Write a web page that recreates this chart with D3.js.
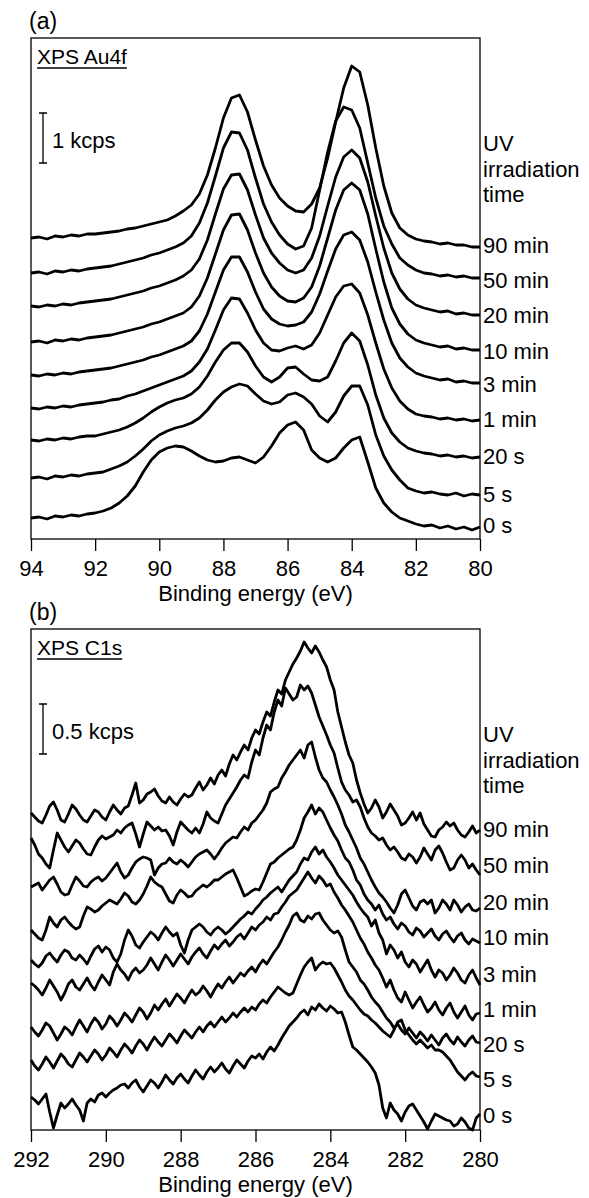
<!DOCTYPE html>
<html>
<head>
<meta charset="utf-8">
<script src="https://cdn.jsdelivr.net/npm/d3@7"></script>
<style>
  body { margin: 0; background: #fff; }
  text { font-family: "Liberation Sans", Arial, sans-serif; fill: #000; }
</style>
</head>
<body>
<svg id="fig" width="589" height="1198"></svg>
<script>
// ---------- data: Au4f (cps, stacked), sampled every 0.25 eV from 94 to 80 eV ----------
const auEnergy = d3.range(0, 57).map(i => 94 - 0.25 * i);
const auTicks = [94, 92, 90, 88, 86, 84, 82, 80];
const timeLabels = ["90 min", "50 min", "20 min", "10 min", "3 min", "1 min", "20 s", "5 s", "0 s"];

const au90min = [6020,6040,6000,6060,6040,6080,6060,6100,6100,6120,6140,6160,6200,6220,6260,6300,6340,6380,6460,6560,6680,6900,7280,7820,8420,8820,8880,8540,7980,7460,7080,6820,6660,6560,6540,6700,7020,7620,8340,9020,9460,9340,8680,7820,7060,6520,6220,6080,6000,5960,5940,5900,5920,5880,5880,5840,5840];
const au50min = [5320,5340,5300,5360,5340,5380,5360,5400,5420,5440,5460,5500,5540,5580,5620,5680,5720,5780,5840,5920,6060,6320,6720,7260,7820,8140,8120,7780,7220,6700,6340,6080,5900,5800,5860,6220,6980,7740,8360,8640,8580,8220,7520,6820,6260,5900,5620,5480,5380,5320,5300,5260,5280,5240,5260,5220,5220];
const au20min = [4660,4640,4680,4660,4700,4680,4720,4740,4760,4780,4800,4840,4880,4920,4960,5020,5060,5120,5180,5260,5380,5600,5980,6500,7000,7280,7300,6980,6480,6020,5720,5520,5380,5320,5380,5620,6060,6660,7240,7640,7780,7620,7140,6460,5820,5320,5000,4800,4680,4620,4580,4540,4560,4500,4520,4480,4480];
const au10min = [3940,3960,3920,3980,3960,4000,3980,4020,4040,4060,4080,4120,4160,4200,4240,4300,4340,4400,4460,4520,4640,4860,5220,5700,6180,6480,6500,6180,5720,5320,5040,4860,4760,4740,4820,5040,5460,6020,6580,6980,7120,6980,6500,5800,5140,4620,4300,4100,3980,3920,3880,3840,3860,3800,3820,3780,3780];
const au3min = [3280,3260,3300,3280,3320,3300,3340,3360,3380,3400,3420,3460,3500,3540,3580,3640,3680,3740,3800,3860,3960,4160,4500,4940,5380,5640,5640,5340,4940,4600,4400,4300,4260,4280,4340,4540,4900,5360,5800,6080,6140,5980,5540,4940,4380,3920,3620,3440,3320,3260,3220,3180,3200,3140,3160,3120,3120];
const au1min = [2620,2600,2640,2620,2660,2640,2680,2700,2720,2740,2780,2800,2860,2900,2960,3020,3080,3140,3200,3260,3360,3540,3800,4180,4580,4820,4800,4520,4180,3920,3780,3760,3820,3860,3800,3880,4120,4480,4840,5060,5100,4920,4480,3920,3400,3020,2760,2600,2500,2460,2440,2400,2420,2380,2400,2360,2380];
const au20s = [1980,1960,2000,1980,2020,2000,2040,2060,2060,2100,2140,2180,2240,2320,2420,2540,2640,2720,2780,2820,2900,3040,3260,3540,3780,3920,3920,3740,3460,3240,3140,3240,3420,3440,3300,3180,3160,3240,3560,3920,4120,3960,3480,2880,2420,2120,1940,1820,1760,1720,1700,1660,1680,1640,1660,1620,1640];
const au5s = [1220,1240,1200,1260,1240,1280,1260,1300,1320,1340,1400,1460,1540,1660,1800,1960,2080,2160,2220,2260,2320,2420,2580,2780,2940,3040,3100,3060,2900,2760,2700,2740,2880,2920,2840,2700,2460,2340,2540,2860,3060,3060,2680,2080,1660,1380,1180,1020,960,920,940,900,880,920,860,900,880];
const au0s = [420,440,400,460,440,480,460,500,520,560,620,720,860,1060,1340,1580,1740,1820,1860,1840,1760,1660,1580,1540,1560,1620,1640,1580,1520,1640,1860,2120,2280,2340,2180,1780,1620,1540,1620,1820,1980,2040,1540,1020,720,540,420,360,300,260,280,220,260,200,240,180,240];

// ---------- data: C1s (cps, stacked), sampled every 0.1 eV from 292 to 280 eV ----------
const cEnergy = d3.range(0, 121).map(i => 292 - 0.1 * i);
const cTicks = [292, 290, 288, 286, 284, 282, 280];

const c90min = [3170,3130,3090,3070,3150,3240,3280,3200,3100,3080,3160,3250,3210,3150,3100,3080,3140,3200,3180,3130,3100,3180,3250,3200,3160,3220,3240,3350,3470,3270,3300,3360,3380,3410,3340,3290,3270,3330,3280,3250,3310,3360,3330,3350,3420,3480,3400,3450,3520,3460,3550,3600,3540,3660,3750,3700,3780,3850,3800,3920,4000,3960,4080,4180,4140,4280,4400,4360,4500,4580,4660,4720,4790,4880,4820,4770,4840,4780,4700,4630,4500,4400,4180,4030,3880,3750,3670,3500,3370,3260,3170,3220,3300,3230,3120,3180,3260,3200,3140,3050,3070,3120,3180,3100,3170,3060,3000,2940,2930,3000,3030,3080,3040,3070,3000,2950,2930,2980,3040,2970,3000];
const c50min = [2920,2850,2760,2720,2660,2620,2800,2970,2900,2830,2780,2840,2900,2870,2810,2760,2750,2830,2900,2940,2910,2930,2950,3000,2970,3020,3050,3070,2960,2830,2960,3080,3040,3000,3030,2990,3000,2940,2850,2980,3080,3040,3000,2970,3020,2970,3060,3180,3120,3090,3070,3160,3250,3310,3370,3430,3500,3550,3520,3680,3800,3750,3920,4050,4000,4180,4300,4240,4420,4360,4300,4330,4450,4400,4440,4370,4250,4130,4040,3950,3850,3770,3620,3480,3400,3350,3280,3300,3230,3120,3030,2970,2940,2900,2920,2850,2800,2830,2780,2720,2700,2760,2730,2670,2730,2820,2760,2700,2800,2840,2770,2680,2600,2620,2700,2750,2700,2620,2660,2600,2550];
const c20min = [2430,2450,2470,2400,2450,2500,2530,2460,2380,2350,2360,2450,2530,2490,2440,2430,2480,2510,2530,2490,2520,2570,2620,2670,2580,2520,2550,2620,2680,2710,2730,2720,2700,2550,2620,2660,2670,2720,2680,2660,2700,2670,2630,2680,2730,2760,2780,2800,2760,2710,2760,2820,2870,2900,2930,2920,2980,3030,3000,3070,3100,3150,3200,3270,3380,3410,3430,3520,3580,3650,3700,3750,3800,3720,3850,3880,3730,3600,3520,3480,3400,3330,3250,3160,3050,2980,2900,2820,2720,2660,2580,2500,2430,2370,2330,2280,2220,2170,2250,2360,2400,2320,2240,2200,2280,2300,2260,2300,2170,2220,2300,2260,2200,2300,2250,2180,2230,2260,2200,2190,2220];
const c10min = [2000,1960,1920,1900,2000,2130,2070,2030,2100,2130,2080,2040,2010,2030,2140,2230,2210,2180,2200,2240,2270,2300,2280,2260,2310,2370,2340,2280,2260,2300,2360,2440,2530,2480,2450,2430,2360,2290,2270,2350,2400,2370,2330,2340,2390,2420,2450,2430,2460,2500,2500,2530,2560,2580,2600,2520,2430,2340,2360,2390,2410,2400,2480,2570,2660,2680,2720,2750,2780,2810,2830,2900,3000,3120,3180,3250,3160,3220,3180,3100,3020,2950,2890,2800,2720,2680,2600,2500,2450,2360,2300,2260,2200,2250,2160,2100,2130,2060,2010,2070,2040,1980,1950,2020,1990,1930,1970,2010,1940,1900,1960,1990,1930,1880,1940,1970,1900,1860,1910,1890,1870];
const c3min = [1700,1660,1630,1670,1740,1770,1720,1680,1750,1800,1780,1720,1700,1750,1710,1660,1740,1810,1840,1780,1830,1800,1720,1680,1760,1900,2000,1940,1850,1820,1880,1930,1980,1950,1900,1970,2030,1980,1940,1970,1850,1770,1900,2000,2030,2060,2030,1980,1950,2000,2030,2000,1960,1990,2030,2070,2110,2140,2180,2160,2210,2250,2300,2330,2370,2400,2430,2380,2440,2500,2540,2580,2660,2720,2700,2780,2830,2760,2800,2730,2680,2620,2550,2500,2450,2400,2350,2280,2220,2170,2130,2040,2100,1970,1900,1760,1850,1800,1720,1780,1680,1630,1700,1660,1580,1640,1700,1600,1530,1600,1570,1500,1550,1620,1570,1500,1470,1550,1600,1520,1450];
const c1min = [1470,1440,1400,1350,1420,1500,1440,1380,1300,1370,1460,1500,1430,1400,1460,1520,1450,1400,1480,1550,1500,1450,1580,1660,1600,1560,1500,1580,1620,1570,1600,1650,1720,1660,1600,1680,1750,1700,1640,1700,1760,1710,1660,1730,1780,1820,1760,1720,1790,1850,1810,1860,1900,1840,1880,1930,1960,1910,1970,2030,2000,2050,2080,2130,2100,2160,2170,2230,2280,2340,2370,2400,2460,2520,2580,2520,2470,2540,2500,2440,2460,2380,2320,2250,2200,2140,2080,2000,1920,1860,1780,1720,1650,1600,1520,1430,1500,1400,1320,1280,1380,1300,1220,1280,1330,1250,1180,1220,1280,1200,1150,1220,1270,1180,1120,1180,1240,1150,1100,1160,1170];
const c20s = [1030,980,940,1000,1070,1040,970,900,960,1030,1000,950,1030,1100,1040,980,1060,1120,1080,1010,1060,1140,1100,1040,1100,1170,1130,1080,1150,1220,1180,1110,1170,1250,1200,1260,1310,1240,1300,1360,1320,1270,1340,1400,1350,1380,1440,1390,1330,1400,1460,1420,1480,1530,1470,1520,1570,1540,1590,1630,1580,1650,1700,1660,1720,1780,1830,1900,1980,2050,2140,2170,2100,2080,2140,2110,2160,2170,2100,2050,2000,1970,1990,1930,1800,1680,1630,1580,1500,1460,1400,1330,1280,1240,1180,1120,1080,1020,1060,1000,960,1020,970,920,980,940,890,950,900,850,920,960,900,860,930,880,840,900,940,880,870];
const c5s = [700,640,600,660,730,680,620,690,760,720,660,630,700,770,730,680,740,800,760,700,750,820,780,730,800,860,820,770,840,900,860,800,870,930,880,840,900,960,920,870,940,1000,960,920,980,1030,980,1040,1080,1030,1080,1130,1080,1120,1170,1130,1180,1220,1180,1230,1200,1260,1300,1270,1330,1380,1430,1400,1370,1350,1370,1460,1550,1630,1680,1720,1600,1650,1680,1660,1670,1620,1550,1480,1400,1340,1300,1250,1200,1160,1140,1100,1070,1030,990,960,930,1000,1080,1100,1000,950,900,860,900,860,820,850,800,800,780,740,700,640,580,540,500,550,580,540,530];
const c0s = [330,300,260,310,360,180,20,150,270,220,260,310,250,200,90,270,310,280,350,370,330,370,400,420,450,460,420,470,500,430,380,440,500,470,420,480,550,500,460,520,560,510,470,540,600,550,510,580,630,580,620,670,610,570,640,700,660,620,690,740,720,760,710,780,830,790,850,920,980,1040,1080,1120,1170,1200,1150,1230,1200,1260,1220,1190,1240,1210,1170,1180,1080,950,830,800,760,720,680,630,570,450,220,120,270,200,160,90,180,240,260,200,140,80,10,90,160,140,120,100,90,40,60,120,80,20,0,120,160];

// ---------- layout ----------
const plotLeft = 31, plotRight = 480;
const font = '"Liberation Sans", Arial, sans-serif';
const svg = d3.select("#fig");

const panels = [
  {
    letter: "(a)", title: "XPS Au4f", top: 38, bottom: 539,
    xDomain: [94, 80], ticks: auTicks, yMax: 10020,
    energy: auEnergy,
    series: [au90min, au50min, au20min, au10min, au3min, au1min, au20s, au5s, au0s],
    bar: { base: 7520, span: 1000, label: "1 kcps" },
    labelY: [253, 288, 323, 359, 392, 427, 464, 502, 533]
  },
  {
    letter: "(b)", title: "XPS C1s", top: 629, bottom: 1130,
    xDomain: [292, 280], ticks: cTicks, yMax: 5010,
    energy: cEnergy,
    series: [c90min, c50min, c20min, c10min, c3min, c1min, c20s, c5s, c0s],
    bar: { base: 3760, span: 500, label: "0.5 kcps" },
    labelY: [837, 873, 910, 945, 982, 1017, 1052, 1087, 1123]
  }
];

function drawPanel(p) {
  const x = d3.scaleLinear().domain(p.xDomain).range([plotLeft, plotRight]);
  const y = d3.scaleLinear().domain([0, p.yMax]).range([p.bottom, p.top]);
  const g = svg.append("g");

  // spectra
  const line = d3.line()
    .x((d, i) => x(p.energy[i]))
    .y(d => y(d));
  g.append("g").selectAll("path")
    .data(p.series)
    .join("path")
    .attr("d", line)
    .attr("fill", "none")
    .attr("stroke", "#000")
    .attr("stroke-width", 2.8)
    .attr("stroke-linejoin", "round");

  // frame
  g.append("rect")
    .attr("x", plotLeft).attr("y", p.top)
    .attr("width", plotRight - plotLeft).attr("height", p.bottom - p.top)
    .attr("fill", "none").attr("stroke", "#000").attr("stroke-width", 1.3);

  // x axis
  const ax = g.append("g")
    .attr("transform", `translate(0,${p.bottom})`)
    .call(d3.axisBottom(x).tickValues(p.ticks).tickSize(12).tickPadding(9).tickFormat(d3.format("d")));
  ax.select(".domain").remove();
  ax.selectAll("line").attr("stroke", "#000").attr("stroke-width", 1.3);
  ax.selectAll("text").attr("font-size", 22).attr("font-family", font).attr("fill", "#000");

  g.append("text")
    .attr("x", (plotLeft + plotRight) / 2).attr("y", p.bottom + 62)
    .attr("text-anchor", "middle").attr("font-size", 22)
    .text("Binding energy (eV)");

  // panel letter and title
  g.append("text").attr("x", 29).attr("y", p.top - 9).attr("font-size", 23).text(p.letter);
  const t = g.append("text").attr("x", 37).attr("y", p.top + 26).attr("font-size", 21).text(p.title);
  const tw = t.node().getComputedTextLength();
  g.append("line")
    .attr("x1", 37).attr("x2", 37 + tw)
    .attr("y1", p.top + 30).attr("y2", p.top + 30)
    .attr("stroke", "#000").attr("stroke-width", 1.5);

  // intensity scale bar
  const y0 = y(p.bar.base), y1 = y(p.bar.base + p.bar.span);
  const bx = 43;
  g.append("path")
    .attr("d", `M${bx - 4},${y1}H${bx + 4}M${bx},${y1}V${y0}M${bx - 4},${y0}H${bx + 4}`)
    .attr("fill", "none").attr("stroke", "#000").attr("stroke-width", 1.3);
  g.append("text").attr("x", 52).attr("y", p.top + 110).attr("font-size", 22).text(p.bar.label);

  // right-hand labels
  const rl = g.append("g").attr("font-size", 22);
  ["UV", "irradiation", "time"].forEach((s, k) => {
    rl.append("text").attr("x", plotRight + 3).attr("y", p.top + 113 + k * 25.5).text(s);
  });
  rl.selectAll("text.time")
    .data(timeLabels)
    .join("text")
    .attr("class", "time")
    .attr("x", plotRight + 3)
    .attr("y", (d, i) => p.labelY[i])
    .text(d => d);
}

panels.forEach(drawPanel);
</script>
</body>
</html>
